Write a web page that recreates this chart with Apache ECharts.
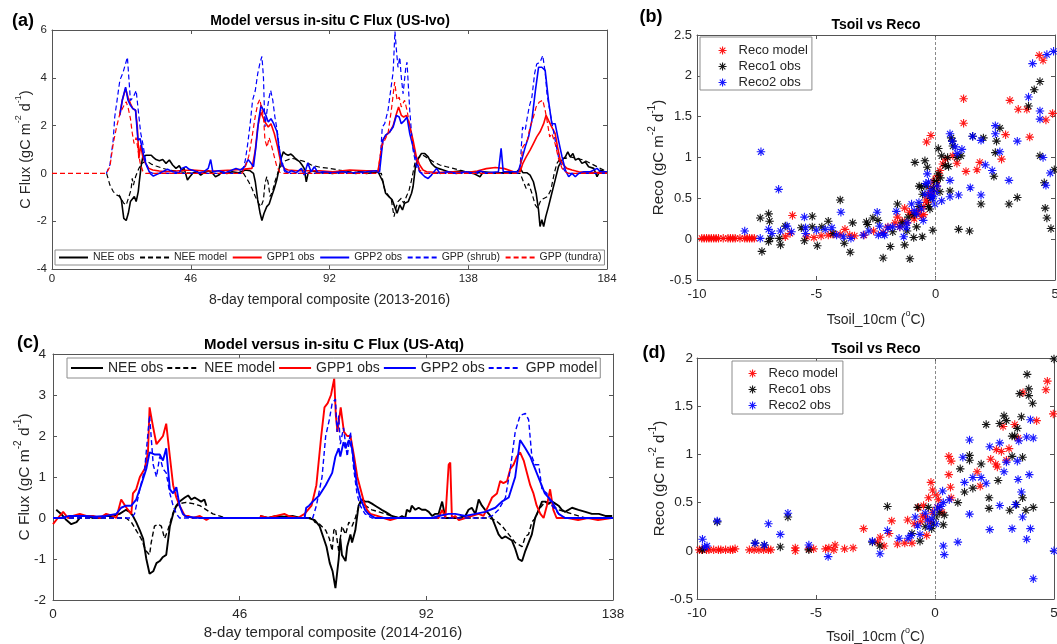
<!DOCTYPE html>
<html><head><meta charset="utf-8">
<script src="https://cdn.jsdelivr.net/npm/echarts/dist/echarts.min.js"></script>
<style>html,body{margin:0;padding:0;background:#fff}#c{width:1057px;height:644px}</style>
</head><body><div id="c"></div>
<script>
// ---------------- DATA ----------------
// Panel (a): US-Ivo, x = 8-day composite index (2013-2016)
const aTicksX = [0, 46, 92, 138, 184];
const aNeeObs = [[22.2,-0.9],[23,-1.11],[23.8,-1.88],[24.6,-1.97],[25.3,-1.67],[26,-1.18],[26.6,-1.11],[27.3,-0.97],[27.9,-1.18],[28.6,-0.76],[29,-0.28],[29.6,0.35],[30.1,0.69],[31.2,0.76],[32.9,0.76],[33.6,0.67],[34.5,0.58],[35.6,0.53],[36.7,0.58],[37.8,0.42],[38.9,0.56],[40,0.35],[41.1,0.21],[42.2,0.32],[43,0.14],[43.8,0.21],[44.9,-0.28],[45.7,-0.14],[46.8,0.03],[48.2,0.07],[49.3,-0.07],[50.4,0.03],[51.8,0.11],[53.1,0.03],[54.2,-0.14],[55.3,-0.07],[56.4,0.07],[58,0],[59.7,0.07],[61.9,0.03],[64.1,0.14],[65.7,0.11],[66.8,0],
[67.4,-0.35],[68.2,-1.11],[69,-1.67],[69.6,-1.97],[70.3,-1.67],[71.2,-1.39],[72,-1.28],[72.8,-0.97],[73.7,-0.63],[74.5,-0.28],[75.2,0.14],[76.1,0.69],[76.7,0.9],[77.4,0.81],[78.3,0.76],[79.2,0.81],[80,0.72],[81,0.58],[82.1,0.49],[82.9,0.35],[83.6,0.21],[84.3,-0.35],[84.9,0],[86,0.11],[88.7,0.03],[90.9,0.03],[93,0],[96.4,0.07],[98.7,0.03],[100.9,0],[102,0.1],[104.2,0],[106.4,0.03],[108.1,0.07],
[109.7,-0.35],[110.6,-0.83],[111.7,-0.97],[112.8,-1.11],[113.6,-1.39],[114.4,-1.67],[115.3,-1.32],[116.2,-1.53],[116.9,-1.25],[118.1,-1.18],[119.2,-0.83],[119.7,-0.56],[120.5,0.28],[121.4,0.63],[122.5,0.83],[123.6,0.83],[124.7,0.69],[125.8,0.42],[126.9,0.28],[128,0.21],[129.7,0.14],[131.4,0.07],[133,0.07],[135.2,0.1],[137.5,0.04],[139.7,0],[141.9,-0.14],[143,0.07],[146.3,0.03],[150.8,0.03],[154.1,0.07],[155.2,0.21],[156.1,0.03],[157.4,0.03],[158.5,-0.07],[159.6,-0.35],[160.5,-0.83],[161.3,-1.53],[161.8,-2.22],[162.4,-1.94],[163,-2.22],[163.7,-1.81],[164.6,-1.39],[165.7,-0.83],[166.8,-0.28],[167.9,0.28],[169.1,0.56],[170.2,0.69],[171,0.9],[171.8,0.69],[172.7,0.83],[173.5,0.56],[174.6,0.63],[175.7,0.42],[176.8,0.49],[177.9,0.28],[179.6,0.21],[180.7,-0.14],[181.8,0.14],[184,0.03]];
const aNeeModel = [[18.1,0],[19.2,-0.49],[20.3,-0.76],[21.4,-0.9],[22.5,-0.97],[23.8,-1.25],[24.6,-1.32],[25.5,-0.97],[26.2,-0.69],[26.6,-0.21],[27,-0.49],[27.7,-0.14],[28.8,0.21],[29.9,0.42],[31.2,0.53],[32.9,0.39],[34.5,0.31],[36.7,0.21],[38.9,0.14],[41.1,0.1],[44.4,0.03],[48.7,0],[63.5,0],
[64.1,-0.07],[65.2,-0.35],[66.3,-0.63],[67.4,-0.97],[68.5,-1.25],[69.3,-1.39],[70.1,-1.11],[70.6,-0.42],[71.2,-0.14],[71.7,-0.42],[72.3,-0.97],[73.1,-0.76],[73.9,-0.35],[75,0.07],[76.1,0.35],[77.4,0.53],[79.4,0.63],[81.6,0.58],[83.8,0.49],[86,0.35],[89,0.25],[92,0.21],[95.3,0.14],[98.7,0.07],[104.2,0.03],[109.2,0],
[110.3,-0.69],[111.4,-0.9],[112.5,-1.11],[113.4,-1.81],[114,-1.46],[114.7,-1.18],[115.8,-1.04],[116.6,-1.25],[117.5,-0.97],[118.4,-0.69],[119.2,-0.28],[120.3,0.42],[121.9,0.69],[123,0.76],[124.7,0.63],[126.4,0.49],[128.6,0.35],[130.8,0.28],[133,0.21],[135.2,0.14],[137.5,0.07],[140.8,0.04],[144.1,0],[155.2,0],
[156.3,-0.35],[157.2,-0.63],[158,-0.42],[159.1,-0.83],[160.2,-1.32],[161,-1.46],[162.1,-1.11],[163.2,-1.04],[164.3,-0.97],[165.4,-0.69],[166.5,0],[167.4,0.42],[168.5,0.63],[170.2,0.63],[171.8,0.69],[174,0.63],[176.3,0.56],[178.5,0.42],[180.7,0.28],[182.9,0.14],[184,0.07]];
const aGpp1Obs = [[22.5,2.5],[23.3,3.06],[24.4,3.54],[25.2,3.19],[26,2.92],[26.8,2.71],[27.7,2.64],[28.3,1.94],[28.8,0.63],[29.4,1.18],[30.1,0.69],[31,0.42],[32.1,0.21],[33.4,0.14],[35.6,0.1],[37.8,0.07],[42.2,0.11],[46.5,0.14],[50.9,0.1],[55.3,0.11],[59.7,0.14],[63,0.17],[66.3,0.21],
[67.4,0.97],[68.2,1.94],[69.2,2.57],[69.9,2.36],[70.6,2.15],[71.7,1.94],[72.6,2.08],[73.7,1.67],[74.8,1.11],[75.9,0.42],[77,0.21],[78.3,0.14],[81.6,0.11],[84.9,0.11],[88.7,0.11],[93.1,0.07],[98.7,0.14],[104.2,0.11],[108.1,0.11],
[109.7,1.39],[110.8,1.6],[112,1.74],[113.1,2.0],[114.2,2.5],[114.9,2.78],[115.8,2.43],[116.6,2.36],[117.5,2.43],[118.6,2.0],[119.7,1.39],[120.8,0.69],[121.9,0.35],[123,0.14],[124.2,0.07],[128,0.04],[133,0.07],[137.5,0.04],[141,0.1],[144,0.2],[147,0.25],[150,0.2],[153,0.07],[155.2,0.07],
[156.1,0.42],[157.2,0.69],[158.5,0.97],[159.6,1.25],[160.7,1.53],[161.8,1.74],[163,2.08],[163.8,2.43],[164.6,2.22],[165.7,1.94],[166.8,1.67],[167.6,1.11],[168.5,0.56],[169.6,0.35],[170.7,0.21],[172.4,0.14],[174.6,0.07],[177.4,0.04],[184,0.04]];
const aGpp2Obs = [[22.5,2.43],[23.3,3.06],[24.4,3.61],[25.2,3.06],[26,2.85],[26.8,2.71],[27.7,2.64],[28.5,1.39],[29.2,1.46],[29.9,1.04],[30.7,0.56],[31.5,0.28],[32.5,0],[33.6,-0.11],[35,-0.03],[36.7,0.07],[38.3,0.17],[40,0.07],[42.2,0.03],[43,0.21],[44.4,0.28],[45.5,0.17],[47.1,0.11],[48.7,0.03],[50.4,0.07],[51.8,0.21],[52.6,0.58],[53.3,0.07],[55.3,0.11],[57.5,0.03],[59.7,0.14],[61,0.21],[62.4,0.14],[63.9,0.28],[65,0.58],[66,0.42],[66.8,0.28],
[67.6,1.11],[68.5,2.22],[69.3,2.85],[70.1,2.64],[70.9,2.43],[71.7,2.15],[72.6,2.29],[73.5,2.08],[74.6,1.74],[75.2,1.11],[76.1,0.49],[77.2,0.14],[78.3,0.03],[79.4,0.11],[81,0.03],[82.7,0.21],[83.6,-0.07],[84.8,0.44],[85.9,0.07],[87,0.28],[88.1,0.03],[89.8,0.07],[93.1,0.03],[96.4,0.07],[99.8,0.03],[104.2,0.07],[107.5,0.11],
[108.6,0.07],[109.7,1.39],[110.6,1.6],[112,1.74],[113.1,1.94],[114.2,2.43],[115.1,2.36],[115.8,2.08],[116.9,2.22],[117.7,2.36],[118.6,1.67],[119.7,1.11],[120.8,0.56],[121.9,0.07],[123.6,-0.14],[124.7,-0.21],[125.8,-0.07],[127.5,0.21],[128.6,0],[131,0.07],[134,0],[137.5,0.07],[139.7,0],[141.9,0.1],[144,0.03],[148,0.07],[148.9,1.05],[149.6,0.07],[152,0.07],[154.6,0.07],
[155.7,0.56],[156.9,1.11],[158,1.53],[159.1,2.22],[160.2,3.4],[161.3,4.44],[162.4,4.44],[163.5,4.31],[164.6,3.06],[165.7,2.08],[166.8,2.08],[167.9,1.39],[169.1,0.69],[170.2,0.14],[171.3,-0.14],[172.4,0],[173.5,-0.14],[174.6,0],[176.3,0.07],[178.5,0.07],[180.7,0.21],[181.8,0.07],[184,0.07]];
const aGppShrub = [[18,0],[19.2,0.35],[20.3,1.4],[20.8,2.36],[22.5,3.9],[23.5,4.2],[24.3,4.55],[25,4.86],[26,3.05],[27,3.2],[27.9,3.47],[28.8,2.4],[29.4,1.7],[30.1,1.25],[31.2,0.42],[32.3,0.07],[33.5,0],[63,0],
[64.1,0.56],[64.9,1.25],[65.7,2.08],[66.5,3.06],[67.4,3.47],[68.2,4.17],[69,4.65],[69.6,4.89],[70.1,4.03],[70.6,1.94],[71.3,2.64],[72,3.19],[72.5,3.47],[73.2,3.06],[73.9,2.36],[74.8,1.67],[75.6,0.83],[76.3,0.28],[77.2,0.07],[78.3,0],[108,0],
[108.6,0.14],[109.5,1.94],[110.3,2.08],[111.4,2.64],[112.5,3.68],[113.1,4.24],[113.7,5.94],[114.2,5.14],[114.7,4.44],[115.3,4.86],[115.8,4.03],[116.4,3.33],[117.3,4.44],[117.7,4.65],[118.6,2.64],[119.2,1.67],[119.7,0.97],[120.8,0.28],[121.9,0.07],[123,0],[154.5,0],
[155.2,0.28],[156,1.94],[156.9,1.81],[157.4,2.22],[158.2,2.78],[159.1,3.19],[160,4.17],[160.7,4.58],[161.8,4.65],[162.7,4.93],[163.5,4.24],[164.1,3.33],[165.2,2.5],[166,1.94],[166.8,1.39],[167.9,0.69],[169.1,0.28],[170.2,0.07],[171.3,0],[184,0]];
const aGppTundra = [[0,0],[18,0],[19.2,0.28],[20.3,1.25],[21.4,1.94],[22.5,2.5],[23.6,2.78],[24.6,3.0],[25.3,2.71],[26,2.3],[26.6,1.7],[27.2,1.25],[27.9,1.5],[28.5,1.0],[29.2,0.45],[30.1,0.1],[31,0],[63,0],
[64.1,0.28],[65.2,0.7],[66.3,1.5],[67.4,2.4],[68.2,2.9],[68.9,3.1],[69.5,2.7],[70.1,2.4],[70.6,1.4],[71.3,1.1],[72,1.5],[72.7,1.2],[73.5,0.8],[74.5,0.3],[75.5,0.05],[76.5,0],[108,0],
[108.6,0.07],[109.2,1.11],[110.3,1.39],[111.4,1.67],[112.5,2.64],[113.6,3.82],[114.4,3.06],[115.1,3.19],[115.8,2.78],[116.9,3.06],[117.7,2.64],[118.6,2.0],[119.7,1.25],[120.8,0.56],[121.9,0.14],[123,0.03],[124,0],[154.5,0],
[155.2,0.14],[156.1,1.11],[156.9,1.25],[157.6,1.39],[158.5,1.94],[159.6,2.36],[160.5,2.78],[161.6,2.99],[162.7,3.06],[163.5,2.64],[164.3,2.08],[165,1.53],[165.7,1.67],[166.8,1.25],[167.9,0.63],[169.1,0.21],[170.2,0.07],[171.3,0],[184,0]];

// Panel (c): US-Atq (2014-2016)
const cTicksX = [0, 46, 92, 138];
const cNeeObs = [[0.8,0.2],[2,0.1],[3.3,-0.05],[4.5,-0.15],[5.8,-0.1],[7,0.05],[8.2,0.05],[9.9,0],[11.5,0],[13,0.05],[14.8,0.05],[16.4,0.1],[18,0.2],[18.9,0.15],[19.7,0.05],[20.5,-0.1],[21.4,-0.3],[22.2,-0.5],[23,-1.0],[23.8,-1.36],[24.7,-1.3],[25.5,-1.1],[26.3,-1.05],[27.1,-0.95],[27.9,-0.9],[28.8,-0.2],[29.6,0.1],[30.4,0.3],[31.2,0.4],[32.5,0.5],[33.3,0.55],[34.1,0.45],[34.9,0.5],[35.7,0.45],[36.5,0.4],[37.3,0.45],[37.8,0.3],[44,'-'],
[51,0.05],[53,0],[55,0.05],[57,0.03],[59,0.05],[61,0],[63,0],[64.5,-0.05],[65.7,-0.2],[67.4,-0.7],[68.2,-1.1],[68.9,-1.3],[69.6,-1.71],[70.4,-1.0],[70.8,-0.5],[71.2,-0.9],[72.1,-1.05],[72.5,-0.7],[73.3,-0.4],[73.7,-0.6],[74.5,-0.3],[75.3,0.3],[76.1,0.45],[76.9,0.4],[77.7,0.4],[78.6,0.35],[79.4,0.3],[80.2,0.25],[81,0.2],[81.9,0.15],[82.7,0.1],[83.5,0.05],[85.2,0],[86,0.05],[86.8,0],[87.2,0.2],[88,0.15],[88.4,0.3],[89.3,0.2],[90.1,0.25],[90.9,0.2],[91.8,0.2],[92.6,0.15],[93.4,0.05],[94.2,0.1],[95,0.1],[95.9,0.4],[96.7,0],[98.3,0],[100,0],[101.6,0.05],[102.4,0.2],[103.2,0.25],[104.1,0.1],[104.9,0.45],[105.7,0.3],[106.5,0.2],[107.4,0.1],[108.2,0],[109,-0.2],[109.8,-0.4],[110.6,-0.5],[111.5,-0.45],[112.3,-0.5],[113.1,-0.55],[113.9,-0.75],[114.7,-1.0],[115.6,-1.05],[116.4,-0.8],[117.2,-0.6],[118,-0.4],[118.8,0],[119.7,0.2],[120.5,0.4],[121.3,0.4],[122.1,0.35],[123,0.4],[123.8,0.35],[124.6,0.3],[125.4,0.2],[126.2,0.15],[127.9,0.25],[129.5,0.2],[131.2,0.15],[132.8,0.1],[134.5,0.1],[136.1,0.05],[137.8,0.05]];
const cNeeModel = [[0,0],[18,0],[19.3,-0.1],[20.5,-0.3],[21.7,-0.5],[22.9,-0.8],[23.8,-0.9],[24.2,-0.6],[25,-0.2],[25.9,-0.15],[26.7,-0.2],[27.5,-0.5],[28.3,-0.3],[29.2,0],[30,0.25],[31.2,0.35],[32.8,0.38],[34.5,0.35],[36.2,0.3],[37.8,0.2],[39.4,0.1],[41,0.05],[42.7,0],[64,0],[64.5,-0.1],[65.7,-0.15],[67.2,-0.3],[68.1,-0.5],[68.8,-0.8],[69.2,-0.3],[69.6,-0.25],[70.4,-0.8],[71.2,-0.2],[72.1,-0.4],[72.9,-0.1],[73.7,-0.2],[74.5,0],[75.7,0.4],[77,0.3],[78.6,0.2],[80.3,0.15],[81.9,0.1],[83.5,0.05],[85.2,0],[107.4,0],[109,-0.05],[110.7,-0.2],[112.3,-0.4],[113.9,-0.6],[115.6,-0.7],[116.4,-0.45],[117.2,-0.4],[118,-0.1],[118.9,0],[119.7,0.2],[121.3,0.4],[123,0.3],[124.6,0.2],[126.2,0.15],[127.9,0.1],[129.5,0.05],[131.2,0],[138,0]];
const cGpp1Obs = [[0,-0.15],[1.2,0],[2.5,0.15],[3.7,0],[4.9,0.05],[6.6,0.1],[8.2,0.05],[9.9,0.05],[11.5,0],[13.1,0.1],[14.8,0.05],[15.6,0],[16.8,0.45],[18.1,0.25],[19.3,0.1],[19.7,0.6],[20.5,0.7],[21.4,1.0],[22.6,1.2],[23.4,1.6],[23.8,2.7],[24.7,2.2],[25.5,1.8],[26.3,1.9],[27.1,2.0],[27.9,2.3],[28.8,1.5],[29.6,0.8],[30.4,0.5],[31.2,0.3],[32.5,0.05],[33.3,0.05],[34.5,0],[36.2,0.05],[37.8,-0.05],[38.6,0],[44,'-'],
[51,0.05],[53,0],[55,0.05],[57,0.1],[58,0.05],[60.3,0],[62,0.1],[63.7,0.3],[64.9,0.8],[66.1,2.0],[66.9,2.7],[67.7,2.8],[68.5,3.0],[69.3,3.4],[69.7,2.5],[70.1,2.1],[70.9,2.7],[71.7,2.1],[72.5,2.0],[73.3,2.0],[74.2,1.5],[75,1.0],[75.8,0.7],[76.6,0.4],[77.4,0.2],[78.2,0.1],[79.9,0.05],[81.5,0],[83.1,-0.05],[84.8,0],[86.4,0],[88,0],[89.7,0],[91.3,0],[93.4,0],[95,0],[95.9,0.2],[96.7,0],[97.5,1.3],[97.9,1.35],[98.3,0],[99.1,0.05],[100,-0.05],[101.6,0],[103.3,0.05],[104.9,0.1],[106.1,0.05],[107.3,0.3],[108.2,0.5],[109.4,0.6],[110.2,0.9],[111,0.85],[111.9,0.9],[112.7,1.2],[113.5,1.3],[114.3,1.5],[115.1,1.6],[116,1.4],[116.8,1.1],[117.6,0.8],[118.4,0.6],[119.2,0.3],[120.1,0.1],[120.9,0],[121.7,0.3],[122.5,0.7],[123.3,0.2],[124.1,0],[125.3,0],[126.9,0],[129.4,-0.05],[131.8,0],[134.3,-0.05],[137.6,0]];
const cGpp2Obs = [[0,0],[2,0],[4,0.05],[6,0.05],[8,0.05],[10,0.03],[13,0.05],[15.6,0.1],[16.8,0.25],[18,0.3],[19.3,0.3],[20.5,0.45],[21.7,0.8],[23,1.2],[23.8,1.6],[25,1.55],[26.3,1.55],[27.1,1.4],[27.9,1.7],[28.8,0.7],[29.6,0.6],[30.4,0.75],[31.2,0.3],[32,0.1],[32.9,0.03],[36.2,0],[62,0],[62.4,0.25],[63.1,0.3],[64,0.4],[65.6,0.55],[67.2,0.8],[68.8,1.1],[69.6,1.5],[70.4,1.7],[70.8,1.5],[71.6,1.85],[72.1,1.7],[72.9,1.9],[73.7,1.7],[74.1,1.4],[74.9,0.8],[75.7,0.5],[76.9,0.2],[77.7,0.1],[79.4,0],[93.4,0],[95,0.05],[97.5,0.1],[99.1,0.1],[101.6,0.05],[104.1,0.1],[106.5,0.15],[109,0.25],[110.6,0.4],[112.3,0.5],[113.9,1.0],[115.1,1.9],[116.4,1.7],[117.6,1.5],[118.8,1.2],[120,0.9],[121.2,0.6],[123,0.4],[124.6,0.1],[126.2,0],[138,0]];
const cGppModel = [[0,0],[19.3,0],[20.1,0.1],[21.4,0.7],[22.6,1.2],[23.8,2.5],[24.7,1.3],[25.5,1.0],[26.3,1.5],[27.1,1.2],[27.9,1.1],[28.8,0.6],[29.6,0.3],[30.4,0.1],[31.2,0],[64,0],[64.9,0.3],[66.3,1.0],[67.2,2.0],[68.1,2.4],[68.8,2.8],[69.6,2.9],[70,2.1],[70.4,2.5],[70.8,1.8],[71.6,2.2],[72.5,1.5],[73.3,2.1],[74.1,1.2],[74.9,0.6],[75.7,0.3],[76.9,0.1],[78.6,0],[106.5,0],[108.2,0.05],[109.8,0.2],[111.5,0.5],[112.7,1.2],[113.9,2.1],[115.1,2.5],[116.4,2.55],[117.2,2.4],[118,1.5],[118.8,1.3],[119.7,1.3],[120.5,0.7],[121.7,0.6],[123,0.3],[124.6,0.1],[126.2,0],[138,0]];

// Panel (b): Tsoil vs Reco (US-Ivo)  [Tsoil_10cm, Reco]
const bRecoModel = [[-9.8,0.01],[-9.7,0.01],[-9.6,0.01],[-9.5,0.01],[-9.4,0.01],[-9.3,0.01],[-9.2,0.01],[-9.1,0.01],[-8.9,0.01],[-8.7,0.01],[-8.6,0.01],[-8.5,0.01],[-8.4,0.01],[-8.2,0.01],[-8.0,0.01],[-7.9,0.01],[-7.8,0.01],[-7.7,0.01],[-7.6,0.01],
[-6.3,0.03],[-6.0,0.29],[-6.1,0.07],[-5.4,0.03],[-5.1,0.02],[-4.8,0.04],[-4.5,0.05],[-4.3,0.06],[-4.0,0.06],[-3.8,0.12],[-3.6,0.05],[-3.4,0.04],[-3.0,0.05],[-2.6,0.1],[-2.2,0.08],[-2.0,0.15],[-1.7,0.2],[-1.6,0.27],[-1.4,0.22],[-1.3,0.38],[-1.1,0.33],[-1.0,0.3],[-0.8,0.32],[-0.6,0.28],[-0.5,0.4],[-0.4,0.48],[-0.3,0.55],[-0.2,0.62],[-0.1,0.7],[0,0.74],[0.05,0.65],[-0.38,1.19],[-0.2,1.27],[0.18,0.84],[0.3,0.92],[0.41,0.98],[0.72,1.02],[0.89,0.93],[1.17,1.42],[1.17,1.72],[1.27,0.83],[1.73,0.85],[1.85,0.94],[2.93,1.28],[2.76,0.98],[3.11,1.7],[3.46,1.59],[3.82,1.59],[3.94,1.25],[4.34,2.25],[4.5,2.19],[4.62,1.46],[4.9,1.54],
[-1.5,0.15],[-1.2,0.2],[-0.9,0.25],[-0.7,0.35],[-0.5,0.3],[-0.35,0.45],[-0.15,0.55],[-0.05,0.6],[0.02,0.7],[0.1,0.78]];
const bReco1Obs = [[-7.35,0.26],[-7.28,-0.15],[-7.0,0.31],[-6.96,0.22],[-6.93,0.01],[-7.0,-0.03],[-6.55,0.01],[-6.5,-0.07],[-6.3,0.16],[-5.63,0.14],[-5.5,-0.02],[-5.17,0.28],[-5.17,0.15],[-4.96,-0.08],[-4.77,0.15],[-4.5,0.22],[-4.3,0.07],[-4.0,0.48],[-3.83,-0.05],[-3.58,-0.16],[-3.48,0.2],[-2.9,0.21],[-2.85,0.18],[-2.63,0.26],[-2.42,0.23],[-2.2,-0.23],[-1.9,-0.09],[-1.8,0.09],[-1.6,0.43],[-1.3,-0.07],[-1.08,-0.24],[-1.15,0.27],[-0.92,0.02],[-0.87,0.94],[-0.69,0.65],[-0.56,0.03],[-0.45,0.96],[-0.35,0.88],[-0.24,0.37],[-0.12,0.11],[0,0.69],[0.11,1.11],[0.18,0.58],[0.25,1.02],[0.54,0.89],[0.6,0.59],[0.65,1.24],[0.72,1.14],[0.96,0.12],[1.06,1.02],[1.42,0.1],[1.55,1.26],[1.9,0.43],[2.0,1.24],[2.44,0.77],[2.5,1.06],[2.55,1.2],[2.69,1.36],[3.07,0.43],[3.42,0.51],[3.89,1.63],[4.13,1.83],[4.37,1.93],[4.37,1.02],[4.55,0.69],[4.59,0.38],[4.66,0.26],[4.83,0.13],[4.97,0.85],
[-0.9,0.3],[-0.7,0.4],[-0.55,0.55],[-0.4,0.65],[-0.3,0.4],[-0.2,0.5],[-0.1,0.62],[0,0.72],[0.1,0.8],[-0.6,0.64],[-0.8,0.15],[-1.2,0.1],[-1.4,0.2],[0.4,0.9],[0.5,1.0],[0.7,1.2],[0.9,1.0],[0.2,0.75]];
const bReco2Obs = [[-8.0,0.1],[-7.35,0.01],[-7.32,1.07],[-7.0,0.12],[-6.86,0.07],[-6.58,0.61],[-6.5,0.1],[-6.23,0.16],[-6.04,0.09],[-5.5,0.27],[-5.45,0.14],[-5.45,0.07],[-5.0,0.11],[-4.63,0.12],[-4.35,0.14],[-4.15,0.05],[-3.97,0.33],[-3.87,0.03],[-3.55,0.01],[-3.03,0.05],[-2.8,0.1],[-2.45,0.33],[-2.35,0.16],[-2.14,0.05],[-2.0,0.14],[-1.65,0.34],[-1.34,0.03],[-1.23,0.14],[-1.01,0.43],[-0.8,0.31],[-0.6,0.37],[-0.52,0.23],[-0.41,0.68],[-0.35,0.8],[-0.24,0.54],[-0.13,0.5],[-0.03,0.43],[0.25,0.47],[0.6,1.29],[0.6,0.72],[0.6,0.52],[0.82,1.13],[0.96,0.54],[1.1,1.1],[1.45,0.63],[1.55,1.26],[1.9,1.21],[1.9,0.54],[2.08,0.91],[2.37,0.84],[2.5,1.29],[2.5,1.39],[2.69,1.07],[3.07,0.72],[3.42,1.2],[3.89,1.74],[4.06,2.15],[4.37,1.57],[4.37,1.47],[4.5,1.0],[4.62,0.66],[4.66,2.26],[4.8,0.81],[4.94,2.3],
[-0.9,0.35],[-0.7,0.45],[-0.45,0.55],[-0.3,0.7],[-0.2,0.6],[-0.1,0.52],[0,0.57],[0.05,0.65],[-1.2,0.2],[-1.5,0.15],[-1.8,0.15],[-2.2,0.07],[-2.4,0.05],[0.7,1.2],[0.9,1.05]];

// Panel (d): Tsoil vs Reco (US-Atq)
const dRecoModel = [[-9.9,0.01],[-9.8,0.01],[-9.6,0.01],[-9.5,0.01],[-9.3,0.01],[-9.1,0.01],[-9.0,0.01],[-8.8,0.01],[-8.6,0.01],[-8.5,0.01],[-8.4,0.02],[-7.8,0.01],[-7.6,0.01],[-7.4,0.01],[-7.2,0.01],[-7.0,0.01],[-6.9,0.01],[-5.87,0.03],[-5.87,0],[-5.3,0.02],[-5.1,0.02],[-4.6,0.02],[-4.46,0.03],[-4.25,0.01],[-4.2,0.06],[-3.8,0.02],[-3.44,0.03],[-3.0,0.23],[-2.42,0.09],[-2.3,0.14],[-2.14,0.05],[-1.93,0.18],[-1.82,0.31],[-1.58,0.07],[-1.27,0.08],[-1.15,0.32],[-0.97,0.08],[-0.87,0.28],[-0.69,0.45],[-0.52,0.36],[-0.48,0.47],[-0.35,0.16],[-0.27,0.55],[-0.17,0.71],[-0.1,0.63],[0.04,0.58],[0.14,0.53],[-0.1,0.4],[0.58,0.98],[0.68,0.93],[0.58,0.79],[0.65,0.66],[0.68,0.55],[1.77,0.82],[1.9,0.67],[2.34,0.95],[2.55,0.9],[2.62,0.87],[2.58,1.05],[2.79,1.03],[2.86,1.29],[3.0,0.94],[3.11,1.06],[3.35,1.31],[3.49,1.17],[3.7,1.64],[4.27,1.35],[4.66,1.67],[4.72,1.76],[4.97,1.42],[-0.6,0.3],[-0.4,0.35],[-0.2,0.3],[0.1,0.45],[0.3,0.4]];
const dReco1Obs = [[-9.77,0.01],[-9.15,0.3],[-7.56,0.08],[-7.17,0.06],[-6.5,0.04],[-6.18,0.35],[-5.3,0.01],[-2.63,0.09],[-2.32,0.05],[-2.0,0.46],[-0.97,0.18],[-0.73,0.45],[-0.63,0.1],[-0.41,0.25],[-0.28,0.45],[-0.14,0.23],[-0.06,0.28],[0.04,0.35],[0.18,0.4],[0.35,0.27],[0.39,0.37],[0.96,0.5],[1.06,0.85],[1.24,0.61],[1.45,0.99],[1.45,0.94],[1.59,0.65],[1.94,0.9],[2.15,1.31],[2.27,0.44],[2.27,0.55],[2.65,0.73],[2.72,1.32],[2.9,1.4],[3.0,1.35],[3.14,0.42],[3.24,0.98],[3.24,1.19],[3.35,1.19],[3.42,0.48],[3.46,1.27],[3.56,1.63],[3.63,1.39],[3.68,0.55],[3.68,0.97],[3.82,0.42],[3.87,1.83],[3.94,1.68],[3.94,1.61],[4.1,1.53],[4.13,0.45],[5.0,1.99]];
const dReco2Obs = [[-9.77,0.12],[-9.68,0.04],[-9.58,0.05],[-9.15,0.31],[-7.56,0.08],[-7.17,0.06],[-7.0,0.28],[-6.5,0.17],[-6.18,0.39],[-5.3,0.06],[-4.49,-0.06],[-2.63,0.1],[-2.31,-0.03],[-2.0,0.21],[-1.51,0.13],[-1.13,0.13],[-1.01,0.16],[-0.83,0.35],[-0.73,0.26],[-0.63,0.17],[-0.41,0.39],[-0.31,0.32],[-0.24,0.25],[-0.13,0.33],[-0.03,0.4],[0.04,0.28],[0.11,0.45],[0.25,0.46],[0.35,0.5],[0.32,0.62],[0.35,0.05],[0.39,-0.04],[0.6,0.53],[0.96,0.09],[1.17,0.97],[1.24,0.71],[1.45,1.15],[1.45,0.38],[1.59,0.76],[1.94,0.76],[2.15,0.7],[2.3,0.22],[2.3,1.08],[2.72,1.12],[2.72,0.47],[2.9,0.82],[3.0,0.92],[3.24,0.23],[3.38,0.48],[3.46,0.93],[3.49,0.74],[3.52,1.14],[3.63,0.61],[3.68,0.35],[3.85,0.12],[3.96,0.79],[4.01,1.36],[4.01,0.23],[3.85,1.18],[4.13,1.17],[4.13,-0.29],[5.0,0]];

// ---------------- CHART ----------------
const FONT = '"Liberation Sans", Arial, Helvetica, sans-serif';
const AX = '#555555';
const TXT = '#262626';
const STAR = 'path://M5,0L5,10M0,5L10,5M1.5,1.5L8.5,8.5M1.5,8.5L8.5,1.5';

function axes(kind, gi, o) {
  const base = {
    type: 'value', gridIndex: gi, min: o.min, max: o.max, interval: o.interval,
    splitLine: { show: false },
    axisLine: { show: true, onZero: false, lineStyle: { color: AX, width: 1 } },
    axisTick: { show: true, inside: true, length: 4, lineStyle: { color: AX, width: 1 } }
  };
  const main = Object.assign({}, base, {
    position: kind === 'x' ? 'bottom' : 'left',
    axisLabel: { show: true, fontSize: o.fs, color: TXT, fontFamily: FONT, margin: o.margin,
                 hideOverlap: false, showMinLabel: true, showMaxLabel: true },
    name: o.name, nameLocation: 'middle', nameGap: o.nameGap, nameMoveOverlap: false,
    nameTextStyle: { fontFamily: FONT, color: TXT, fontSize: o.nfs,
      rich: {
        n: { fontFamily: FONT, color: TXT, fontSize: o.nfs, lineHeight: o.nfs + 4, verticalAlign: 'bottom' },
        s: { fontFamily: FONT, color: TXT, fontSize: Math.round(o.nfs * 0.65), lineHeight: Math.round(o.nfs * 0.65), verticalAlign: 'top' }
      } }
  });
  const twin = Object.assign({}, base, { position: kind === 'x' ? 'top' : 'right', axisLabel: { show: false } });
  return [main, twin];
}

const fluxName = '{n|C Flux (gC m}{s|-2}{n| d}{s|-1}{n|)}';
const recoName = '{n|Reco (gC m}{s|-2}{n| d}{s|-1}{n|)}';
const tsoilName = '{n|Tsoil_10cm (}{s|o}{n|C)}';

const xAxes = [].concat(
  axes('x', 0, { min: 0, max: 184, interval: 46, fs: 11.5, margin: 4, name: '8-day temporal composite (2013-2016)', nameGap: 24, nfs: 14 }),
  axes('x', 1, { min: -10, max: 5, interval: 5, fs: 13, margin: 8, name: tsoilName, nameGap: 29, nfs: 14 }),
  axes('x', 2, { min: 0, max: 138, interval: 46, fs: 13.5, margin: 7, name: '8-day temporal composite (2014-2016)', nameGap: 25, nfs: 15 }),
  axes('x', 3, { min: -10, max: 5, interval: 5, fs: 13.5, margin: 7, name: tsoilName, nameGap: 27, nfs: 14 })
);
const yAxes = [].concat(
  axes('y', 0, { min: -4, max: 6, interval: 2, fs: 11.5, margin: 5, name: fluxName, nameGap: 19, nfs: 14.5 }),
  axes('y', 1, { min: -0.5, max: 2.5, interval: 0.5, fs: 13, margin: 5, name: recoName, nameGap: 31, nfs: 15 }),
  axes('y', 2, { min: -2, max: 4, interval: 1, fs: 13.5, margin: 7, name: fluxName, nameGap: 20, nfs: 15.5 }),
  axes('y', 3, { min: -0.5, max: 2, interval: 0.5, fs: 13.5, margin: 4, name: recoName, nameGap: 30, nfs: 15 })
);

function line(name, gi, data, color, dashed, width) {
  return { type: 'line', name: name, xAxisIndex: 2 * gi, yAxisIndex: 2 * gi, data: data,
    symbol: 'none', showSymbol: false, connectNulls: false, silent: true, z: 2,
    lineStyle: { color: color, width: width, type: dashed ? [5, 3] : 'solid' },
    itemStyle: { color: color } };
}
function scat(name, gi, data, color, withZeroLine) {
  const s = { type: 'scatter', name: name, xAxisIndex: 2 * gi, yAxisIndex: 2 * gi, data: data,
    symbol: STAR, symbolSize: 8.5, symbolKeepAspect: true, silent: true,
    itemStyle: { color: color, borderColor: color, borderWidth: 1.1, opacity: 0.9 } };
  if (withZeroLine) {
    s.markLine = { silent: true, symbol: ['none', 'none'], label: { show: false },
      lineStyle: { color: '#8a8a8a', type: [3, 2], width: 1 }, data: [{ xAxis: 0 }] };
  }
  return s;
}

const series = [
  line('NEE obs', 0, aNeeObs, '#000000', false, 1.6),
  line('NEE model', 0, aNeeModel, '#000000', true, 1.2),
  line('GPP1 obs', 0, aGpp1Obs, '#ff0000', false, 1.6),
  line('GPP2 obs', 0, aGpp2Obs, '#0000ff', false, 1.6),
  line('GPP (shrub)', 0, aGppShrub, '#0000ff', true, 1.2),
  line('GPP (tundra)', 0, aGppTundra, '#ff0000', true, 1.2),
  scat('Reco model', 1, bRecoModel, '#ff0000', true),
  scat('Reco1 obs', 1, bReco1Obs, '#000000', false),
  scat('Reco2 obs', 1, bReco2Obs, '#0000ff', false),
  line('NEE obs', 2, cNeeObs, '#000000', false, 1.9),
  line('NEE model', 2, cNeeModel, '#000000', true, 1.4),
  line('GPP1 obs', 2, cGpp1Obs, '#ff0000', false, 1.9),
  line('GPP2 obs', 2, cGpp2Obs, '#0000ff', false, 1.9),
  line('GPP model', 2, cGppModel, '#0000ff', true, 1.4),
  scat('Reco model', 3, dRecoModel, '#ff0000', true),
  scat('Reco1 obs', 3, dReco1Obs, '#000000', false),
  scat('Reco2 obs', 3, dReco2Obs, '#0000ff', false)
];

function title(text, x, y, size, bold) {
  return { type: 'text', x: x, y: y, silent: true, z: 10,
    style: { text: text, fill: '#000', font: (bold ? 'bold ' : '') + size + 'px ' + FONT,
      textAlign: 'center', textVerticalAlign: 'middle', align: 'center', verticalAlign: 'middle' } };
}

const legendBox = { borderColor: '#8c8c8c', borderWidth: 1, backgroundColor: '#fff', selectedMode: false };

const option = {
  animation: false,
  backgroundColor: '#ffffff',
  grid: [
    { left: 52, top: 30, width: 555, height: 239, containLabel: false, outerBoundsMode: 'none' },
    { left: 697, top: 35, width: 358, height: 245, containLabel: false, outerBoundsMode: 'none' },
    { left: 53, top: 354, width: 560, height: 246, containLabel: false, outerBoundsMode: 'none' },
    { left: 697, top: 358, width: 357, height: 241, containLabel: false, outerBoundsMode: 'none' }
  ],
  xAxis: xAxes,
  yAxis: yAxes,
  legend: [
    Object.assign({}, legendBox, { left: 55, top: 250, orient: 'horizontal', padding: [2, 3, 2, 3],
      itemWidth: 29, itemHeight: 10, itemGap: 4.6, itemStyle: { opacity: 0 },
      textStyle: { fontSize: 10.5, fontFamily: FONT, color: TXT },
      data: ['NEE obs', 'NEE model', 'GPP1 obs', 'GPP2 obs', 'GPP (shrub)', 'GPP (tundra)'] }),
    Object.assign({}, legendBox, { left: 700, top: 37, orient: 'vertical', padding: [7, 4, 1, 18],
      itemWidth: 22, itemHeight: 8, itemGap: 3, itemStyle: { borderWidth: 1.1 },
      textStyle: { fontSize: 13, fontFamily: FONT, color: TXT },
      data: ['Reco model', 'Reco1 obs', 'Reco2 obs'] }),
    Object.assign({}, legendBox, { left: 67, top: 358, orient: 'horizontal', padding: [3, 3, 3, 3],
      itemWidth: 32, itemHeight: 12, itemGap: 3, itemStyle: { opacity: 0 },
      textStyle: { fontSize: 14, fontFamily: FONT, color: TXT },
      data: ['NEE obs', 'NEE model', 'GPP1 obs', 'GPP2 obs', 'GPP model'] }),
    Object.assign({}, legendBox, { left: 732, top: 361, orient: 'vertical', padding: [6, 5, 2, 16],
      itemWidth: 22, itemHeight: 8, itemGap: 3, itemStyle: { borderWidth: 1.1 },
      textStyle: { fontSize: 13, fontFamily: FONT, color: TXT },
      data: ['Reco model', 'Reco1 obs', 'Reco2 obs'] })
  ],
  graphic: [
    title('(a)', 23, 21, 18, true),
    title('Model versus in-situ C Flux (US-Ivo)', 330, 21, 14, true),
    title('(b)', 651, 17, 18, true),
    title('Tsoil vs Reco', 876, 25, 14, true),
    title('(c)', 28, 343, 18, true),
    title('Model versus in-situ C Flux (US-Atq)', 334, 345, 15, true),
    title('(d)', 654, 353, 18, true),
    title('Tsoil vs Reco', 876, 349, 14, true)
  ],
  series: series
};

const chart = echarts.init(document.getElementById('c'), null, { renderer: 'canvas' });
chart.setOption(option);
</script>
</body></html>
